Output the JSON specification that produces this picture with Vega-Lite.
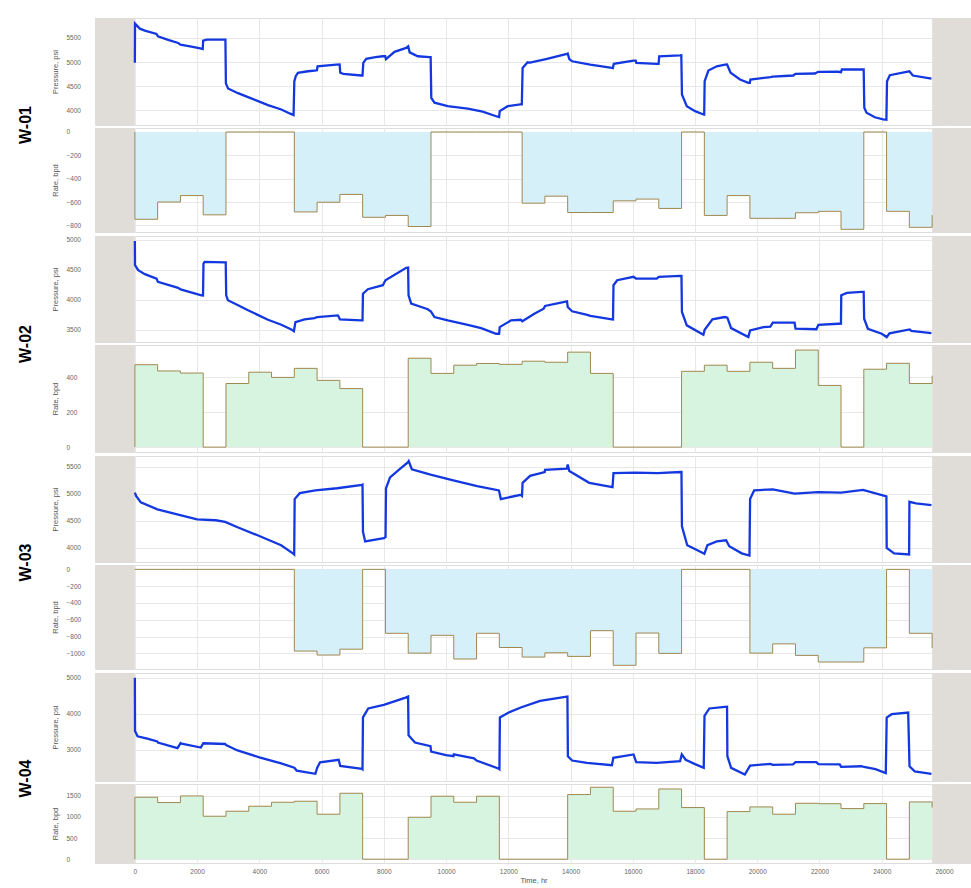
{
"$schema": "https://vega.github.io/schema/vega-lite/v6.json",
"padding": {"left": 17, "top": 17, "right": 0, "bottom": 0},
"background": "white",
"spacing": 2,
"config": {
  "view": {"stroke": "#dddddd"},
  "axis": {"ticks": false, "tickSize": 0, "tickCount": 30, "domain": false, "gridColor": "#e8e8e8", "labelOverlap": false, "labelFlush": false, "labelFont": "Liberation Sans", "labelFontSize": 6.5, "labelColor": "#666666", "titleFont": "Liberation Sans", "titleFontSize": 7.5, "titleFontWeight": "normal", "titleColor": "#555555"},
  "axisY": {"labelAlign": "left", "labelPadding": 29, "titlePadding": 7},
  "title": {"font": "Liberation Sans", "fontSize": 16, "fontWeight": "bold", "color": "#000000"}
},
"datasets": {
  "bands": [{"a": -1281, "b": 0}, {"a": 25620, "b": 26901}],
  "p1": [
{"t":0,"p":4985},{"t":5,"p":5793},{"t":160,"p":5690},{"t":321,"p":5649},{"t":696,"p":5580},{"t":740,"p":5530},{"t":1069,"p":5459},{"t":1390,"p":5395},{"t":1463,"p":5360},{"t":1819,"p":5321},{"t":2140,"p":5278},{"t":2180,"p":5270},{"t":2195,"p":5443},{"t":2310,"p":5462},{"t":2910,"p":5462},{"t":2925,"p":4560},{"t":2994,"p":4455},{"t":3315,"p":4357},{"t":3636,"p":4275},{"t":4278,"p":4110},{"t":4707,"p":4021},{"t":4974,"p":3939},{"t":5100,"p":3905},{"t":5124,"p":4600},{"t":5170,"p":4708},{"t":5240,"p":4778},{"t":5561,"p":4810},{"t":5776,"p":4825},{"t":5850,"p":4830},{"t":5870,"p":4913},{"t":6473,"p":4948},{"t":6580,"p":4950},{"t":6600,"p":4780},{"t":6700,"p":4757},{"t":7275,"p":4722},{"t":7315,"p":4720},{"t":7340,"p":4983},{"t":7435,"p":5066},{"t":7734,"p":5100},{"t":7968,"p":5120},{"t":8045,"p":5122},{"t":8070,"p":5060},{"t":8343,"p":5211},{"t":8719,"p":5293},{"t":8784,"p":5325},{"t":8830,"p":5200},{"t":9091,"p":5120},{"t":9467,"p":5100},{"t":9505,"p":5100},{"t":9525,"p":4262},{"t":9627,"p":4160},{"t":10054,"p":4090},{"t":10696,"p":4036},{"t":11177,"p":3974},{"t":11658,"p":3871},{"t":11705,"p":3865},{"t":11725,"p":3987},{"t":11979,"p":4089},{"t":12387,"p":4124},{"t":12435,"p":4125},{"t":12460,"p":4880},{"t":12621,"p":4996},{"t":12700,"p":4990},{"t":13243,"p":5066},{"t":13885,"p":5169},{"t":13910,"p":5175},{"t":13960,"p":5060},{"t":14050,"p":5016},{"t":14633,"p":4948},{"t":15329,"p":4880},{"t":15360,"p":4875},{"t":15390,"p":4963},{"t":16023,"p":5031},{"t":16095,"p":5031},{"t":16115,"p":4983},{"t":16774,"p":4963},{"t":16830,"p":4962},{"t":16850,"p":5120},{"t":17521,"p":5140},{"t":17560,"p":5142},{"t":17580,"p":4330},{"t":17736,"p":4089},{"t":18003,"p":3986},{"t":18270,"p":3918},{"t":18295,"p":3915},{"t":18310,"p":4605},{"t":18430,"p":4825},{"t":18700,"p":4913},{"t":18966,"p":4948},{"t":19030,"p":4950},{"t":19143,"p":4778},{"t":19447,"p":4640},{"t":19714,"p":4572},{"t":19760,"p":4570},{"t":19780,"p":4640},{"t":20422,"p":4687},{"t":20496,"p":4698},{"t":21157,"p":4722},{"t":21228,"p":4757},{"t":21853,"p":4764},{"t":21960,"p":4798},{"t":22593,"p":4800},{"t":22692,"p":4790},{"t":22720,"p":4846},{"t":23352,"p":4846},{"t":23420,"p":4848},{"t":23440,"p":4056},{"t":23511,"p":3953},{"t":23778,"p":3860},{"t":24045,"p":3815},{"t":24150,"p":3810},{"t":24170,"p":4605},{"t":24260,"p":4728},{"t":24796,"p":4798},{"t":24888,"p":4810},{"t":25000,"p":4722},{"t":25598,"p":4660}
  ],
  "p2": [
{"t":0,"p":4976},{"t":5,"p":4575},{"t":107,"p":4490},{"t":321,"p":4425},{"t":697,"p":4351},{"t":740,"p":4296},{"t":1390,"p":4196},{"t":1470,"p":4170},{"t":2140,"p":4073},{"t":2190,"p":4070},{"t":2205,"p":4602},{"t":2240,"p":4630},{"t":2900,"p":4620},{"t":2920,"p":4620},{"t":2935,"p":4073},{"t":2990,"p":3990},{"t":3316,"p":3906},{"t":3636,"p":3823},{"t":4278,"p":3666},{"t":4707,"p":3582},{"t":5028,"p":3505},{"t":5110,"p":3475},{"t":5160,"p":3627},{"t":5456,"p":3672},{"t":5777,"p":3694},{"t":5860,"p":3711},{"t":6524,"p":3739},{"t":6590,"p":3672},{"t":7276,"p":3655},{"t":7315,"p":3655},{"t":7330,"p":4100},{"t":7487,"p":4174},{"t":7969,"p":4241},{"t":8052,"p":4324},{"t":8720,"p":4530},{"t":8780,"p":4535},{"t":8795,"p":4073},{"t":8880,"p":3933},{"t":9413,"p":3840},{"t":9516,"p":3800},{"t":9627,"p":3711},{"t":10055,"p":3655},{"t":10697,"p":3582},{"t":11127,"p":3527},{"t":11608,"p":3432},{"t":11705,"p":3430},{"t":11725,"p":3543},{"t":12089,"p":3655},{"t":12400,"p":3665},{"t":12450,"p":3640},{"t":12837,"p":3766},{"t":13136,"p":3850},{"t":13180,"p":3895},{"t":13886,"p":3973},{"t":13910,"p":3878},{"t":14050,"p":3806},{"t":14506,"p":3749},{"t":14640,"p":3730},{"t":15330,"p":3672},{"t":15365,"p":3670},{"t":15380,"p":4241},{"t":15500,"p":4324},{"t":16025,"p":4380},{"t":16104,"p":4352},{"t":16770,"p":4351},{"t":16836,"p":4380},{"t":17530,"p":4396},{"t":17565,"p":4396},{"t":17580,"p":3795},{"t":17736,"p":3572},{"t":18270,"p":3415},{"t":18310,"p":3500},{"t":18560,"p":3672},{"t":18950,"p":3711},{"t":19040,"p":3700},{"t":19160,"p":3527},{"t":19714,"p":3376},{"t":19770,"p":3488},{"t":20200,"p":3543},{"t":20420,"p":3550},{"t":20500,"p":3616},{"t":21200,"p":3616},{"t":21230,"p":3516},{"t":21900,"p":3508},{"t":21965,"p":3582},{"t":22600,"p":3599},{"t":22690,"p":3600},{"t":22700,"p":4073},{"t":22880,"p":4112},{"t":23360,"p":4129},{"t":23420,"p":4129},{"t":23435,"p":3682},{"t":23555,"p":3516},{"t":24000,"p":3432},{"t":24160,"p":3377},{"t":24250,"p":3440},{"t":24900,"p":3505},{"t":24950,"p":3480},{"t":25598,"p":3443}
  ],
  "p3": [
{"t":0,"p":5020},{"t":40,"p":4960},{"t":190,"p":4840},{"t":725,"p":4711},{"t":1360,"p":4619},{"t":2000,"p":4526},{"t":2600,"p":4510},{"t":2900,"p":4480},{"t":3300,"p":4380},{"t":4000,"p":4220},{"t":4700,"p":4050},{"t":5100,"p":3890},{"t":5120,"p":3880},{"t":5135,"p":4900},{"t":5300,"p":5010},{"t":5800,"p":5060},{"t":6500,"p":5100},{"t":7300,"p":5160},{"t":7315,"p":5165},{"t":7330,"p":4300},{"t":7400,"p":4120},{"t":8000,"p":4180},{"t":8055,"p":4200},{"t":8070,"p":5100},{"t":8200,"p":5300},{"t":8500,"p":5450},{"t":8780,"p":5580},{"t":8800,"p":5600},{"t":8900,"p":5450},{"t":9500,"p":5350},{"t":10200,"p":5250},{"t":11000,"p":5140},{"t":11700,"p":5060},{"t":11760,"p":4900},{"t":12400,"p":4980},{"t":12440,"p":4960},{"t":12460,"p":5200},{"t":12700,"p":5330},{"t":13170,"p":5400},{"t":13180,"p":5440},{"t":13880,"p":5460},{"t":13910,"p":5540},{"t":13960,"p":5420},{"t":14600,"p":5200},{"t":15350,"p":5120},{"t":15380,"p":5380},{"t":16100,"p":5390},{"t":16800,"p":5380},{"t":17540,"p":5400},{"t":17565,"p":5400},{"t":17580,"p":4400},{"t":17750,"p":4050},{"t":18270,"p":3900},{"t":18300,"p":3890},{"t":18400,"p":4050},{"t":18700,"p":4120},{"t":19000,"p":4140},{"t":19100,"p":4030},{"t":19500,"p":3900},{"t":19750,"p":3860},{"t":19770,"p":4900},{"t":19900,"p":5060},{"t":20500,"p":5080},{"t":21200,"p":5000},{"t":21950,"p":5030},{"t":22700,"p":5020},{"t":23400,"p":5070},{"t":24150,"p":4950},{"t":24160,"p":4000},{"t":24400,"p":3900},{"t":24880,"p":3880},{"t":24890,"p":4850},{"t":25100,"p":4820},{"t":25598,"p":4790}
  ],
  "p4": [
{"t":0,"p":5000},{"t":5,"p":3520},{"t":85,"p":3372},{"t":400,"p":3308},{"t":720,"p":3232},{"t":740,"p":3200},{"t":1370,"p":3045},{"t":1470,"p":3185},{"t":1500,"p":3170},{"t":2120,"p":3062},{"t":2200,"p":3180},{"t":2900,"p":3160},{"t":2930,"p":3130},{"t":3300,"p":2980},{"t":4000,"p":2790},{"t":4700,"p":2620},{"t":5124,"p":2500},{"t":5200,"p":2420},{"t":5800,"p":2330},{"t":5860,"p":2500},{"t":5950,"p":2650},{"t":6550,"p":2720},{"t":6600,"p":2550},{"t":7300,"p":2470},{"t":7315,"p":2460},{"t":7330,"p":3900},{"t":7500,"p":4150},{"t":8000,"p":4250},{"t":8700,"p":4450},{"t":8780,"p":4480},{"t":8795,"p":3400},{"t":9000,"p":3200},{"t":9500,"p":3100},{"t":9520,"p":2950},{"t":10000,"p":2850},{"t":10240,"p":2820},{"t":10250,"p":2870},{"t":10900,"p":2760},{"t":10980,"p":2700},{"t":11700,"p":2470},{"t":11715,"p":2460},{"t":11730,"p":3900},{"t":12000,"p":4030},{"t":12400,"p":4176},{"t":13020,"p":4361},{"t":13833,"p":4473},{"t":13900,"p":4480},{"t":13915,"p":2820},{"t":14050,"p":2700},{"t":14527,"p":2636},{"t":15330,"p":2569},{"t":15375,"p":2776},{"t":16025,"p":2868},{"t":16110,"p":2653},{"t":16770,"p":2636},{"t":17520,"p":2681},{"t":17575,"p":2870},{"t":17700,"p":2720},{"t":18000,"p":2600},{"t":18280,"p":2496},{"t":18305,"p":3941},{"t":18460,"p":4148},{"t":18960,"p":4193},{"t":19030,"p":4195},{"t":19040,"p":2820},{"t":19160,"p":2496},{"t":19600,"p":2308},{"t":19770,"p":2560},{"t":20420,"p":2608},{"t":20500,"p":2580},{"t":21150,"p":2590},{"t":21230,"p":2653},{"t":21900,"p":2653},{"t":21965,"p":2600},{"t":22650,"p":2590},{"t":22695,"p":2524},{"t":23350,"p":2541},{"t":23430,"p":2520},{"t":23800,"p":2460},{"t":24130,"p":2353},{"t":24160,"p":3896},{"t":24320,"p":3988},{"t":24850,"p":4036},{"t":24893,"p":2541},{"t":25060,"p":2400},{"t":25598,"p":2328}
  ],
  "r1": [
{"t":0,"q":0},{"t":1,"q":-748},{"t":732,"q":-600},{"t":1464,"q":-545},{"t":2196,"q":-710},{"t":2928,"q":0},{"t":3660,"q":0},{"t":4392,"q":0},{"t":5124,"q":-685},{"t":5856,"q":-602},{"t":6588,"q":-535},{"t":7320,"q":-731},{"t":8052,"q":-715},{"t":8784,"q":-810},{"t":9516,"q":0},{"t":10248,"q":0},{"t":10980,"q":0},{"t":11712,"q":0},{"t":12444,"q":-610},{"t":13176,"q":-550},{"t":13908,"q":-690},{"t":14640,"q":-690},{"t":15372,"q":-590},{"t":16104,"q":-575},{"t":16836,"q":-655},{"t":17568,"q":0},{"t":18300,"q":-715},{"t":19032,"q":-545},{"t":19764,"q":-740},{"t":20496,"q":-740},{"t":21228,"q":-692},{"t":21960,"q":-680},{"t":22692,"q":-834},{"t":23424,"q":0},{"t":24156,"q":-680},{"t":24888,"q":-817},{"t":25620,"q":-712}
  ],
  "r2": [
{"t":0,"q":0},{"t":1,"q":473},{"t":732,"q":437},{"t":1464,"q":425},{"t":2196,"q":0},{"t":2928,"q":365},{"t":3660,"q":430},{"t":4392,"q":400},{"t":5124,"q":452},{"t":5856,"q":383},{"t":6588,"q":336},{"t":7320,"q":0},{"t":8052,"q":0},{"t":8784,"q":510},{"t":9516,"q":423},{"t":10248,"q":470},{"t":10980,"q":480},{"t":11712,"q":475},{"t":12444,"q":493},{"t":13176,"q":487},{"t":13908,"q":545},{"t":14640,"q":423},{"t":15372,"q":0},{"t":16104,"q":0},{"t":16836,"q":0},{"t":17568,"q":435},{"t":18300,"q":470},{"t":19032,"q":435},{"t":19764,"q":487},{"t":20496,"q":452},{"t":21228,"q":557},{"t":21960,"q":354},{"t":22692,"q":0},{"t":23424,"q":447},{"t":24156,"q":481},{"t":24888,"q":365},{"t":25620,"q":410}
  ],
  "r3": [
{"t":0,"q":0},{"t":1,"q":0},{"t":732,"q":0},{"t":1464,"q":0},{"t":2196,"q":0},{"t":2928,"q":0},{"t":3660,"q":0},{"t":4392,"q":0},{"t":5124,"q":-973},{"t":5856,"q":-1020},{"t":6588,"q":-950},{"t":7320,"q":0},{"t":8052,"q":-761},{"t":8784,"q":-997},{"t":9516,"q":-785},{"t":10248,"q":-1067},{"t":10980,"q":-761},{"t":11712,"q":-930},{"t":12444,"q":-1044},{"t":13176,"q":-993},{"t":13908,"q":-1036},{"t":14640,"q":-730},{"t":15372,"q":-1142},{"t":16104,"q":-758},{"t":16836,"q":-1000},{"t":17568,"q":0},{"t":18300,"q":0},{"t":19032,"q":0},{"t":19764,"q":-997},{"t":20496,"q":-887},{"t":21228,"q":-1024},{"t":21960,"q":-1103},{"t":22692,"q":-1103},{"t":23424,"q":-934},{"t":24156,"q":0},{"t":24888,"q":-761},{"t":25620,"q":-938}
  ],
  "r4": [
{"t":0,"q":0},{"t":1,"q":1462},{"t":732,"q":1337},{"t":1464,"q":1493},{"t":2196,"q":1014},{"t":2928,"q":1132},{"t":3660,"q":1250},{"t":4392,"q":1344},{"t":5124,"q":1368},{"t":5856,"q":1061},{"t":6588,"q":1556},{"t":7320,"q":0},{"t":8052,"q":0},{"t":8784,"q":990},{"t":9516,"q":1486},{"t":10248,"q":1344},{"t":10980,"q":1486},{"t":11712,"q":0},{"t":12444,"q":0},{"t":13176,"q":0},{"t":13908,"q":1525},{"t":14640,"q":1698},{"t":15372,"q":1132},{"t":16104,"q":1186},{"t":16836,"q":1658},{"t":17568,"q":1219},{"t":18300,"q":0},{"t":19032,"q":1124},{"t":19764,"q":1234},{"t":20496,"q":1061},{"t":21228,"q":1320},{"t":21960,"q":1310},{"t":22692,"q":1195},{"t":23424,"q":1313},{"t":24156,"q":0},{"t":24888,"q":1352},{"t":25620,"q":1220}
  ]
},
"vconcat": [
 {"title": {"text": "W-01", "orient": "left", "anchor": "middle", "offset": 17}, "spacing": 1, "vconcat": [
  {"width": 877, "height": 107, "layer": [
    {"data": {"name": "bands"}, "mark": {"type": "rect", "color": "#e0ddd9"}, "encoding": {"x": {"field": "a", "type": "quantitative", "scale": {"domain": [-1281, 26901], "nice": false, "zero": false}, "axis": {"values": [0,2000,4000,6000,8000,10000,12000,14000,16000,18000,20000,22000,24000,26000], "tickCount": 30, "labels": false, "title": null}}, "x2": {"field": "b"}}},
    {"data": {"name": "p1"}, "mark": {"type": "line", "color": "#1438e0", "strokeWidth": 2.3}, "encoding": {"x": {"field": "t", "type": "quantitative", "scale": {"domain": [-1281, 26901], "nice": false, "zero": false}}, "y": {"field": "p", "type": "quantitative", "scale": {"domain": [3700, 5910], "nice": false, "zero": false}, "axis": {"values": [4000,4500,5000,5500], "tickCount": 30, "format": "d", "title": "Pressure, psi"}}}}
  ]},
  {"width": 877, "height": 104, "layer": [
    {"data": {"name": "bands"}, "mark": {"type": "rect", "color": "#e0ddd9"}, "encoding": {"x": {"field": "a", "type": "quantitative", "scale": {"domain": [-1281, 26901], "nice": false, "zero": false}, "axis": {"values": [0,2000,4000,6000,8000,10000,12000,14000,16000,18000,20000,22000,24000,26000], "tickCount": 30, "labels": false, "title": null}}, "x2": {"field": "b"}}},
    {"data": {"name": "r1"}, "mark": {"type": "area", "interpolate": "step-after", "color": "#d6f0fa"}, "encoding": {"x": {"field": "t", "type": "quantitative", "scale": {"domain": [-1281, 26901], "nice": false, "zero": false}}, "y": {"field": "q", "type": "quantitative", "scale": {"domain": [-857, 34], "nice": false}, "axis": {"values": [-800,-600,-400,-200,0], "tickCount": 30, "format": "d", "title": "Rate, bpd"}}, "y2": {"datum": 0}}},
    {"data": {"name": "r1"}, "mark": {"type": "line", "interpolate": "step-after", "color": "#a08850", "strokeWidth": 1}, "encoding": {"x": {"field": "t", "type": "quantitative"}, "y": {"field": "q", "type": "quantitative"}}}
  ]}
 ]},
 {"title": {"text": "W-02", "orient": "left", "anchor": "middle", "offset": 17}, "spacing": 1, "vconcat": [
  {"width": 877, "height": 106, "layer": [
    {"data": {"name": "bands"}, "mark": {"type": "rect", "color": "#e0ddd9"}, "encoding": {"x": {"field": "a", "type": "quantitative", "scale": {"domain": [-1281, 26901], "nice": false, "zero": false}, "axis": {"values": [0,2000,4000,6000,8000,10000,12000,14000,16000,18000,20000,22000,24000,26000], "tickCount": 30, "labels": false, "title": null}}, "x2": {"field": "b"}}},
    {"data": {"name": "p2"}, "mark": {"type": "line", "color": "#1438e0", "strokeWidth": 2.3}, "encoding": {"x": {"field": "t", "type": "quantitative", "scale": {"domain": [-1281, 26901], "nice": false, "zero": false}}, "y": {"field": "p", "type": "quantitative", "scale": {"domain": [3295, 5060], "nice": false, "zero": false}, "axis": {"values": [3500,4000,4500,5000], "tickCount": 30, "format": "d", "title": "Pressure, psi"}}}}
  ]},
  {"width": 877, "height": 107, "layer": [
    {"data": {"name": "bands"}, "mark": {"type": "rect", "color": "#e0ddd9"}, "encoding": {"x": {"field": "a", "type": "quantitative", "scale": {"domain": [-1281, 26901], "nice": false, "zero": false}, "axis": {"values": [0,2000,4000,6000,8000,10000,12000,14000,16000,18000,20000,22000,24000,26000], "tickCount": 30, "labels": false, "title": null}}, "x2": {"field": "b"}}},
    {"data": {"name": "r2"}, "mark": {"type": "area", "interpolate": "step-after", "color": "#d7f4e0"}, "encoding": {"x": {"field": "t", "type": "quantitative", "scale": {"domain": [-1281, 26901], "nice": false, "zero": false}}, "y": {"field": "q", "type": "quantitative", "scale": {"domain": [-28, 586], "nice": false}, "axis": {"values": [0,200,400], "tickCount": 30, "format": "d", "title": "Rate, bpd"}}, "y2": {"datum": 0}}},
    {"data": {"name": "r2"}, "mark": {"type": "line", "interpolate": "step-after", "color": "#a08850", "strokeWidth": 1}, "encoding": {"x": {"field": "t", "type": "quantitative"}, "y": {"field": "q", "type": "quantitative"}}}
  ]}
 ]},
 {"title": {"text": "W-03", "orient": "left", "anchor": "middle", "offset": 17}, "spacing": 1, "vconcat": [
  {"width": 877, "height": 106, "layer": [
    {"data": {"name": "bands"}, "mark": {"type": "rect", "color": "#e0ddd9"}, "encoding": {"x": {"field": "a", "type": "quantitative", "scale": {"domain": [-1281, 26901], "nice": false, "zero": false}, "axis": {"values": [0,2000,4000,6000,8000,10000,12000,14000,16000,18000,20000,22000,24000,26000], "tickCount": 30, "labels": false, "title": null}}, "x2": {"field": "b"}}},
    {"data": {"name": "p3"}, "mark": {"type": "line", "color": "#1438e0", "strokeWidth": 2.3}, "encoding": {"x": {"field": "t", "type": "quantitative", "scale": {"domain": [-1281, 26901], "nice": false, "zero": false}}, "y": {"field": "p", "type": "quantitative", "scale": {"domain": [3740, 5695], "nice": false, "zero": false}, "axis": {"values": [4000,4500,5000,5500], "tickCount": 30, "format": "d", "title": "Pressure, psi"}}}}
  ]},
  {"width": 877, "height": 104, "layer": [
    {"data": {"name": "bands"}, "mark": {"type": "rect", "color": "#e0ddd9"}, "encoding": {"x": {"field": "a", "type": "quantitative", "scale": {"domain": [-1281, 26901], "nice": false, "zero": false}, "axis": {"values": [0,2000,4000,6000,8000,10000,12000,14000,16000,18000,20000,22000,24000,26000], "tickCount": 30, "labels": false, "title": null}}, "x2": {"field": "b"}}},
    {"data": {"name": "r3"}, "mark": {"type": "area", "interpolate": "step-after", "color": "#d6f0fa"}, "encoding": {"x": {"field": "t", "type": "quantitative", "scale": {"domain": [-1281, 26901], "nice": false, "zero": false}}, "y": {"field": "q", "type": "quantitative", "scale": {"domain": [-1186, 52], "nice": false}, "axis": {"values": [-1000,-800,-600,-400,-200,0], "tickCount": 30, "format": "d", "title": "Rate, bpd"}}, "y2": {"datum": 0}}},
    {"data": {"name": "r3"}, "mark": {"type": "line", "interpolate": "step-after", "color": "#a08850", "strokeWidth": 1}, "encoding": {"x": {"field": "t", "type": "quantitative"}, "y": {"field": "q", "type": "quantitative"}}}
  ]}
 ]},
 {"title": {"text": "W-04", "orient": "left", "anchor": "middle", "offset": 17}, "spacing": 1, "vconcat": [
  {"width": 877, "height": 108, "layer": [
    {"data": {"name": "bands"}, "mark": {"type": "rect", "color": "#e0ddd9"}, "encoding": {"x": {"field": "a", "type": "quantitative", "scale": {"domain": [-1281, 26901], "nice": false, "zero": false}, "axis": {"values": [0,2000,4000,6000,8000,10000,12000,14000,16000,18000,20000,22000,24000,26000], "tickCount": 30, "labels": false, "title": null}}, "x2": {"field": "b"}}},
    {"data": {"name": "p4"}, "mark": {"type": "line", "color": "#1438e0", "strokeWidth": 2.3}, "encoding": {"x": {"field": "t", "type": "quantitative", "scale": {"domain": [-1281, 26901], "nice": false, "zero": false}}, "y": {"field": "p", "type": "quantitative", "scale": {"domain": [2130, 5135], "nice": false, "zero": false}, "axis": {"values": [3000,4000,5000], "tickCount": 30, "format": "d", "title": "Pressure, psi"}}}}
  ]},
  {"width": 877, "height": 79, "layer": [
    {"data": {"name": "bands"}, "mark": {"type": "rect", "color": "#e0ddd9"}, "encoding": {"x": {"field": "a", "type": "quantitative", "scale": {"domain": [-1281, 26901], "nice": false, "zero": false}, "axis": {"values": [0,2000,4000,6000,8000,10000,12000,14000,16000,18000,20000,22000,24000,26000], "tickCount": 30, "format": "d", "title": "Time, hr", "labelPadding": 5, "titlePadding": 2}}, "x2": {"field": "b"}}},
    {"data": {"name": "r4"}, "mark": {"type": "area", "interpolate": "step-after", "color": "#d7f4e0"}, "encoding": {"x": {"field": "t", "type": "quantitative", "scale": {"domain": [-1281, 26901], "nice": false, "zero": false}}, "y": {"field": "q", "type": "quantitative", "scale": {"domain": [-90, 1775], "nice": false}, "axis": {"values": [0,500,1000,1500], "tickCount": 30, "format": "d", "title": "Rate, bpd"}}, "y2": {"datum": 0}}},
    {"data": {"name": "r4"}, "mark": {"type": "line", "interpolate": "step-after", "color": "#a08850", "strokeWidth": 1}, "encoding": {"x": {"field": "t", "type": "quantitative"}, "y": {"field": "q", "type": "quantitative"}}}
  ]}
 ]}
]
}
